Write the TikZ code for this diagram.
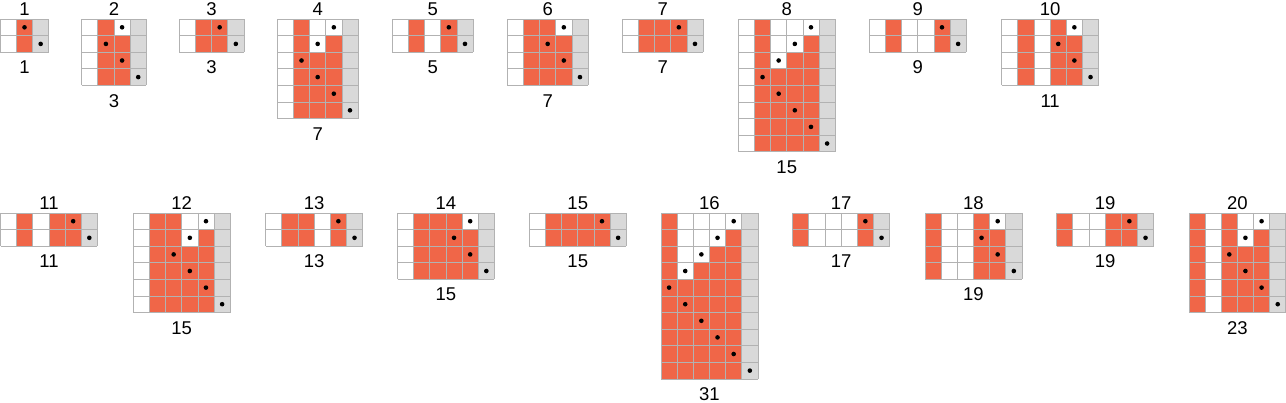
\documentclass[tikz,border=0pt]{standalone}
\usepackage{fontspec}
\setmainfont{Liberation Sans}
\definecolor{cellorange}{RGB}{240,102,72}
\definecolor{cellgray}{RGB}{217,217,217}
\definecolor{gridgray}{RGB}{178,178,178}
\tikzset{
  orangecell/.style={fill=cellorange},
  graycell/.style={fill=cellgray},
  gridline/.style={draw=gridgray, line width=0.8pt},
  headdot/.style={fill=black},
  numlabel/.style={anchor=base, inner sep=0pt, font=\fontsize{18.5}{20}\selectfont},
}
\newcommand\tmcw{16.15}
\newcommand\tmrh{16.6}
% #1 x, #2 y, #3 bits, #4 number of bit columns, #5 trailing zeros, #6 top label, #7 bottom label
\newcommand\tmpanel[7]{%
\begin{scope}[shift={(#1,#2)}]
  \pgfmathtruncatemacro\tmrows{2*#5+2}
  \pgfmathtruncatemacro\tmlastrow{\tmrows-1}
  \pgfmathtruncatemacro\tmlastcol{#4-1}
  \pgfmathtruncatemacro\tmncols{#4+1}
  \foreach \tmr in {0,...,\tmlastrow}{
    \foreach \tmc in {0,...,\tmlastcol}{
      \pgfmathtruncatemacro\tmcc{(\tmc >= #4-#5) ? ((\tmr >= #5 || \tmc+\tmr > #4-1) ? 1 : 0) : {#3}[\tmc]}
      \ifnum\tmcc=1 \fill[orangecell] ({\tmc*\tmcw},{\tmr*\tmrh}) rectangle ++(\tmcw,\tmrh);\fi
    }
  }
  \fill[graycell] ({#4*\tmcw},0) rectangle ++(\tmcw,{\tmrows*\tmrh});
  \foreach \tmc in {0,...,\tmncols}{
    \draw[gridline] ({\tmc*\tmcw},0) -- ({\tmc*\tmcw},{\tmrows*\tmrh});
  }
  \foreach \tmr in {0,...,\tmrows}{
    \draw[gridline] (0,{\tmr*\tmrh}) -- ({\tmncols*\tmcw},{\tmr*\tmrh});
  }
  \foreach \tmr in {0,...,\tmlastrow}{
    \pgfmathsetmacro\tmh{(\tmr <= #5) ? (#4-1-\tmr) : (#4-1-2*#5+\tmr)}
    \fill[headdot] ({(\tmh+0.5)*\tmcw},{(\tmr+0.5)*\tmrh}) circle (2.3pt);
  }
  \node[numlabel] (top#6) at ({\tmncols*\tmcw/2},-3.8) {#6};
  \node[numlabel] (bot#6) at ({\tmncols*\tmcw/2},{\tmrows*\tmrh+21.6}) {#7};
\end{scope}}
\begin{document}
\begin{tikzpicture}[x=1pt,y=-1pt]
\useasboundingbox (0,0) rectangle (1286,402);
% top row
\tmpanel{0.3}{19}{0,1}{2}{0}{1}{1}
\tmpanel{81.7}{19}{0,1,0}{3}{1}{2}{3}
\tmpanel{179.3}{19}{0,1,1}{3}{0}{3}{3}
\tmpanel{277.3}{19}{0,1,0,0}{4}{2}{4}{7}
\tmpanel{392.3}{19}{0,1,0,1}{4}{0}{5}{5}
\tmpanel{507.3}{19}{0,1,1,0}{4}{1}{6}{7}
\tmpanel{622.3}{19}{0,1,1,1}{4}{0}{7}{7}
\tmpanel{738.3}{19}{0,1,0,0,0}{5}{3}{8}{15}
\tmpanel{869.3}{19}{0,1,0,0,1}{5}{0}{9}{9}
\tmpanel{1001.7}{19}{0,1,0,1,0}{5}{1}{10}{11}
% bottom row
\tmpanel{0.5}{212.9}{0,1,0,1,1}{5}{0}{11}{11}
\tmpanel{133.3}{212.9}{0,1,1,0,0}{5}{2}{12}{15}
\tmpanel{265.7}{212.9}{0,1,1,0,1}{5}{0}{13}{13}
\tmpanel{397.5}{212.9}{0,1,1,1,0}{5}{1}{14}{15}
\tmpanel{529.3}{212.9}{0,1,1,1,1}{5}{0}{15}{15}
\tmpanel{661}{212.9}{1,0,0,0,0}{5}{4}{16}{31}
\tmpanel{792.7}{212.9}{1,0,0,0,1}{5}{0}{17}{17}
\tmpanel{925}{212.9}{1,0,0,1,0}{5}{1}{18}{19}
\tmpanel{1056.7}{212.9}{1,0,0,1,1}{5}{0}{19}{19}
\tmpanel{1188.9}{212.9}{1,0,1,0,0}{5}{2}{20}{23}
\end{tikzpicture}
\end{document}
